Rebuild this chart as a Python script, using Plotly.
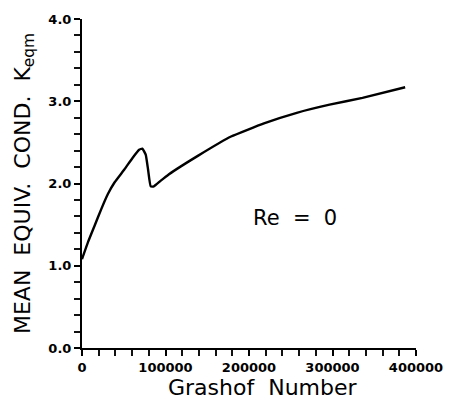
import plotly.graph_objects as go

grashof = [0, 7400, 15300, 23200, 31000, 38900, 50700, 60500, 68400, 72300, 76300, 79100,
           82300, 86100, 94000, 103800, 139200, 178500, 217900, 257200, 296500, 335900, 387000]
keqm = [1.08, 1.293, 1.493, 1.692, 1.872, 2.012, 2.17, 2.311, 2.411, 2.423, 2.351, 2.171,
        1.966, 1.966, 2.032, 2.11, 2.339, 2.571, 2.731, 2.859, 2.958, 3.042, 3.17]

x_range = [0, 400000]
y_range = [0, 4]

FONT = "DejaVu Sans, Liberation Sans, Arial"

fig = go.Figure()
fig.add_trace(go.Scatter(x=grashof, y=keqm, mode="lines",
                         line=dict(color="black", width=2.4, shape="spline", smoothing=0.4),
                         showlegend=False))

fig.add_annotation(x=255000, y=1.58, text="Re\u00a0\u00a0=\u00a0\u00a00", showarrow=False,
                   font=dict(family=FONT, size=21, color="black"))

fig.add_annotation(xref="paper", yref="paper", x=0.543, y=-0.12, yanchor="middle",
                   text="Grashof\u00a0\u00a0Number", showarrow=False,
                   font=dict(family=FONT, size=22, color="black"))

fig.update_layout(
    width=455, height=402,
    margin=dict(l=82, r=34, t=14, b=54),
    paper_bgcolor="white", plot_bgcolor="white",
    xaxis=dict(range=x_range, tickmode="linear", tick0=0, dtick=100000, tickformat="d",
               showline=True, linecolor="black", linewidth=2, showgrid=False, zeroline=False,
               ticks="outside", ticklen=6, tickwidth=2, tickcolor="black",
               minor=dict(ticks="outside", dtick=20000, ticklen=6, tickwidth=2, tickcolor="#111111"),
               tickfont=dict(family=FONT, size=13, color="black", weight="bold")),
    yaxis=dict(range=y_range, tickmode="linear", tick0=0, dtick=1, tickformat=".1f",
               showline=True, linecolor="black", linewidth=2, showgrid=False, zeroline=False,
               ticks="outside", ticklen=6, tickwidth=2, tickcolor="black",
               minor=dict(ticks="outside", dtick=0.2, ticklen=6, tickwidth=2, tickcolor="#111111"),
               tickfont=dict(family=FONT, size=13, color="black", weight="bold"),
               title=dict(text="MEAN\u00a0\u00a0EQUIV.\u00a0\u00a0COND.\u00a0\u00a0K<sub>eqm</sub>", standoff=12,
                          font=dict(family=FONT, size=22, color="black"))),
)

fig.write_html("out.html")
